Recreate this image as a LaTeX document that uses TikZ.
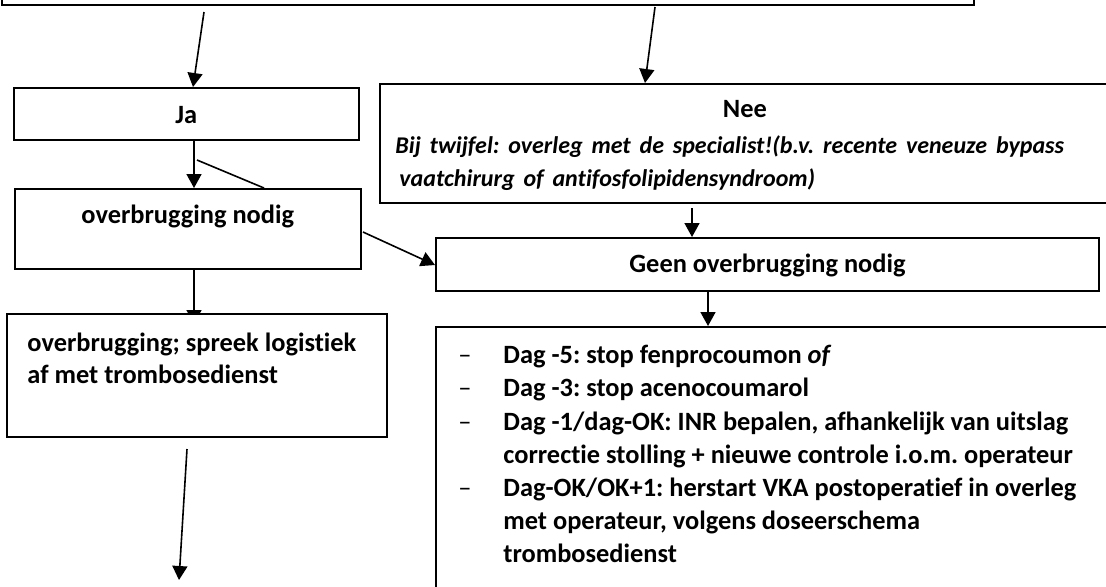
\documentclass[tikz,border=0pt]{standalone}
\usepackage{fontspec}
\setmainfont{Carlito}[Ligatures=NoCommon]
\usetikzlibrary{calc,positioning,arrows.meta,backgrounds}

\newcommand{\streep}{\makebox[22.5pt][l]{\mdseries --}}
\newcommand{\inspr}{\hspace*{22.5pt}}

\begin{document}
\frenchspacing
\begin{tikzpicture}[x=0.5pt,y=-0.5pt,
    box/.style={draw, line width=1pt, rectangle, inner sep=0pt, anchor=north west},
    lbl/.style={inner sep=0pt, font=\fontsize{13.2}{16.3}\selectfont\bfseries},
    arr/.style={line width=0.8pt, -{Triangle[width=7.5pt,length=7pt]}}]

    \path[use as bounding box, clip] (0,0) rectangle (1106,586);

    % Boxes
    \node[box, anchor=south west, minimum width=486pt, minimum height=30pt] (vraag) at (1,6) {};
    \node[box, minimum width=172.75pt, minimum height=26pt] (ja) at (12.5,87) {};
    \node[box, minimum width=365.5pt, minimum height=59.5pt] (nee) at (379,83) {};
    \node[box, minimum width=173.25pt, minimum height=40pt] (ovn) at (13.5,188) {};
    \node[box, minimum width=331.5pt, minimum height=26.5pt] (geen) at (435,237) {};
    \node[box, fill=white, minimum width=190pt, minimum height=61.5pt] (ovb) at (6,313) {};
    \node[box, minimum width=345pt, minimum height=140pt] (dagen) at (435,326) {};

    % Texts
    \node[lbl, anchor=base] (jatekst) at ($(ja.north)+(0,36)$) {Ja};
    \node[lbl, anchor=north west, text width=349.5pt] (neetekst) at ($(nee.north west)+(16,11)$)
        {\centering\strut Nee\par\vspace{2pt}
         \raggedright\fontsize{12}{14.8}\selectfont\itshape
         \strut Bij twijfel: overleg met de specialist!(b.v. recente veneuze bypass\\
         \hspace*{2pt}vaatchirurg of antifosfolipidensyndroom)};
    \node[lbl, anchor=base] (ovntekst) at ($(ovn.north)+(0,35)$) {overbrugging nodig};
    \node[lbl, anchor=base] (geentekst) at ($(geen.north)+(0,35)$) {Geen overbrugging nodig};
    \node[lbl, anchor=north west, align=left] (ovbtekst) at ($(ovb.north west)+(21,15)$)
        {\strut overbrugging; spreek logistiek\\af met trombosedienst};
    \node[lbl, anchor=north west, align=left, font=\fontsize{13.2}{16.6}\selectfont\bfseries] (dagtekst)
        at ($(dagen.north west)+(23,14)$)
        {\strut\streep Dag -5: stop fenprocoumon \textit{of}\\
         \streep Dag -3: stop acenocoumarol\\
         \streep Dag -1/dag-OK: INR bepalen, afhankelijk van uitslag\\
         \inspr correctie stolling + nieuwe controle i.o.m. operateur\\
         \streep Dag-OK/OK+1: herstart VKA postoperatief in overleg\\
         \inspr met operateur, volgens doseerschema\\
         \inspr trombosedienst};

    % Connectors
    \coordinate (verder) at (179,580);
    \draw[arr] ($(vraag.south west)+(203,6)$) -- ($(ja.north west)+(180.5,0)$);
    \draw[arr] ($(vraag.south west)+(654,1)$) -- ($(nee.north west)+(266,0)$);
    \draw[arr] ($(ja.south west)+(181.5,0)$) -- ($(ovn.north west)+(180.5,0)$);
    \draw[line width=0.8pt] ($(ja.south west)+(184.5,19)$) -- ($(ovn.north west)+(250.5,0)$);
    \draw[arr] ($(ovn.north east)+(1,44)$) -- ($(geen.north west)+(0,28)$);
    \draw[arr] ($(nee.south west)+(313,4)$) -- ($(geen.north west)+(257,0)$);
    \draw[arr] ($(geen.south west)+(273,0)$) -- ($(dagen.north west)+(273,0)$);
    \begin{scope}[on background layer]
        \draw[arr] ($(ovn.south west)+(180.5,0)$) -- ($(ovb.north west)+(188,11)$);
    \end{scope}
    \draw[arr] ($(ovb.south west)+(181,11)$) -- (verder);
\end{tikzpicture}
\end{document}
